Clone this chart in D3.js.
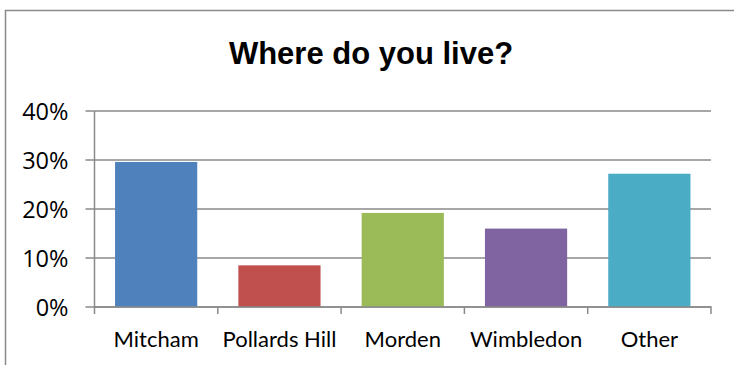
<!DOCTYPE html>
<html>
<head>
<meta charset="utf-8">
<script src="https://cdn.jsdelivr.net/npm/d3@7"></script>
<style>
  html, body { margin: 0; padding: 0; background: #fff; }
  svg { display: block; }
  .tick text { fill: #000; }
</style>
</head>
<body>
<svg id="chart" width="734" height="365"></svg>
<script>
// Survey answers: share of respondents by area
const categories = ["Mitcham", "Pollards Hill", "Morden", "Wimbledon", "Other"];
const values = [0.296, 0.085, 0.192, 0.160, 0.272];
const colors = ["#4F81BD", "#C0504D", "#9BBB59", "#8064A2", "#4BACC6"];
const yTicks = [0, 0.1, 0.2, 0.3, 0.4];
const title = "Where do you live?";

const svg = d3.select("#chart");
const W = 734, H = 365;
const plot = { left: 94.5, right: 711, top: 111, bottom: 307 };
const lineColor = "#8a8a8a";

// Outer chart frame (right and bottom edges fall outside the view)
svg.append("path")
  .attr("d", `M5.5,${H} V10.5 H${W}`)
  .attr("fill", "none")
  .attr("stroke", lineColor)
  .attr("stroke-width", 1.5);

svg.append("text")
  .attr("x", 371)
  .attr("y", 64)
  .attr("text-anchor", "middle")
  .attr("font-family", "'Liberation Sans', Arial, sans-serif")
  .attr("font-weight", "bold")
  .attr("font-size", 31)
  .text(title);

const x = d3.scaleBand()
  .domain(categories)
  .range([plot.left, plot.right])
  .paddingInner(1 / 3)
  .paddingOuter(1 / 6);

const y = d3.scaleLinear()
  .domain([0, 0.4])
  .range([plot.bottom, plot.top]);

// Horizontal gridlines
svg.append("g")
  .selectAll("line")
  .data(yTicks)
  .join("line")
  .attr("x1", plot.left - 9)
  .attr("x2", plot.right)
  .attr("y1", d => y(d))
  .attr("y2", d => y(d))
  .attr("stroke", lineColor)
  .attr("stroke-width", 1.5);

// Y axis
const yAxis = svg.append("g")
  .attr("transform", `translate(${plot.left},0)`)
  .call(d3.axisLeft(y).tickValues(yTicks).tickFormat(d3.format(".0%")).tickSize(9).tickPadding(17));
yAxis.selectAll(".tick line").remove();
yAxis.select(".domain").attr("d", `M0,${plot.top}V${plot.bottom + 7}`)
  .attr("stroke", lineColor).attr("stroke-width", 1.5);
yAxis.selectAll(".tick text")
  .attr("font-family", "'Open Sans', sans-serif")
  .attr("font-size", 23.5)
  .attr("dy", "0.36em");

// Bars
svg.append("g")
  .selectAll("rect")
  .data(values)
  .join("rect")
  .attr("x", (d, i) => x(categories[i]))
  .attr("width", x.bandwidth())
  .attr("y", d => y(d))
  .attr("height", d => y(0) - y(d))
  .attr("fill", (d, i) => colors[i]);

// X axis with category boundary ticks
const xAxis = svg.append("g")
  .attr("transform", `translate(0,${plot.bottom})`)
  .call(d3.axisBottom(x).tickSize(0).tickPadding(24));
xAxis.select(".domain").attr("d", `M${plot.left},0H${plot.right}V7`)
  .attr("stroke", lineColor).attr("stroke-width", 1.5).attr("fill", "none");
xAxis.selectAll(".tick text")
  .attr("font-family", "Lato, 'Open Sans', sans-serif")
  .attr("font-size", 22);

const step = x.step();
xAxis.append("g")
  .selectAll("line")
  .data(categories.slice(1))
  .join("line")
  .attr("x1", (d) => x(d) - x.paddingInner() * step / 2)
  .attr("x2", (d) => x(d) - x.paddingInner() * step / 2)
  .attr("y1", 0)
  .attr("y2", 7)
  .attr("stroke", lineColor)
  .attr("stroke-width", 1.5);
</script>
</body>
</html>
